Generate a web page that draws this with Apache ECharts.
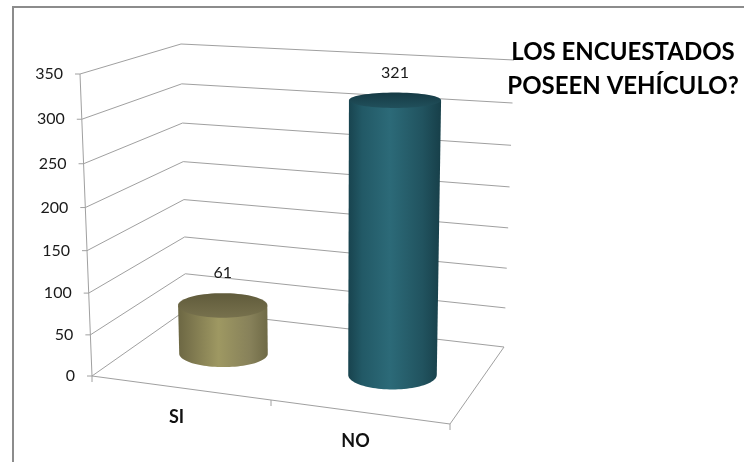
<!DOCTYPE html>
<html>
<head>
<meta charset="utf-8">
<script src="https://cdn.jsdelivr.net/npm/echarts@6/dist/echarts.min.js"></script>
<style>
  html, body { margin: 0; padding: 0; background: #ffffff; }
  #chart { width: 744px; height: 462px; }
</style>
</head>
<body>
<div id="chart"></div>
<script>
// Survey answers: do respondents own a vehicle?
const categories = ['SI', 'NO'];
const counts = [61, 321];
const valueTicks = [0, 50, 100, 150, 200, 250, 300, 350];
const titleLines = ['LOS ENCUESTADOS', 'POSEEN VEHÍCULO?'];

// Screen corners of the 3D plot box (front/back, bottom/top, left/right)
const box = {
  fbl: [92, 376], ftl: [80, 74],
  bbl: [186, 310], btl: [181, 44],
  fbr: [450, 424], ftr: [453, 98],
  bbr: [504, 347], btr: [514, 60]
};
const PERSP = 0.946;      // foreshortening of the height axis
const DEPTH = 0.5;        // depth at which the cylinders stand
const RAD_U = 0.131;      // cylinder radius along the category direction
const RAD_W = 0.196;      // cylinder radius along the depth direction
const GRID_COLOR = '#a0a0a0';
const FAMILY = 'Lato, "Open Sans", sans-serif';

function lerp(a, b, t) { return [a[0] + (b[0] - a[0]) * t, a[1] + (b[1] - a[1]) * t]; }
function proj(u, w, s) {
  const t = s * PERSP / (1 + (PERSP - 1) * s);
  const bot = lerp(lerp(box.fbl, box.fbr, u), lerp(box.bbl, box.bbr, u), w);
  const top = lerp(lerp(box.ftl, box.ftr, u), lerp(box.btl, box.btr, u), w);
  return lerp(bot, top, t);
}
// Normalised position (u along categories, s along values) from the cartesian scales
function norm(params, api, cat, value) {
  const p = api.coord([cat, value]);
  const cs = params.coordSys;
  return { u: (p[0] - cs.x) / cs.width, s: (cs.y + cs.height - p[1]) / cs.height };
}
function line(a, b, color) {
  return { type: 'line', shape: { x1: a[0], y1: a[1], x2: b[0], y2: b[1] },
           style: { stroke: color || GRID_COLOR, lineWidth: 1 } };
}
function label(text, x, y, align, font, fill) {
  return { type: 'text', style: {
    text: text, x: x, y: y, align: align, verticalAlign: 'middle',
    textAlign: align, textVerticalAlign: 'middle', font: font, fill: fill } };
}
function ellipsePts(cx, cy, rx, ry, from, to, n) {
  const pts = [];
  for (let i = 0; i <= n; i++) {
    const a = from + (to - from) * i / n;
    pts.push([cx + rx * Math.cos(a), cy + ry * Math.sin(a)]);
  }
  return pts;
}

const palette = [
  { body: ['#6c6743', '#7d774e', '#9e9862', '#87815a', '#6f6a46'], top: ['#605b3b', '#77714d'] },
  { body: ['#18434e', '#225966', '#2c6a78', '#21535f', '#173f49'], top: ['#153a44', '#21505c'] }
];

// Gridlines on the side and back walls, with value labels on the front edge
function renderTick(params, api) {
  const n = norm(params, api, 0, api.value(1));
  const front = proj(0, 0, n.s), back = proj(0, 1, n.s), right = proj(1, 1, n.s);
  return {
    type: 'group',
    children: [
      line(front, back),
      line(back, right),
      line([front[0] - 5, front[1]], front),
      label(String(api.value(1)), front[0] - 17, front[1], 'right', '16px ' + FAMILY, '#1a1a1a')
    ]
  };
}

// Floor outline, front vertical edge and category ticks
function renderFrame(params, api) {
  const top = norm(params, api, 0, valueTicks[valueTicks.length - 1]).s;
  const children = [
    line(proj(0, 0, 0), proj(0, 0, top)),
    line(proj(0, 0, 0), proj(1, 0, 0)),
    line(proj(1, 0, 0), proj(1, 1, 0))
  ];
  for (let k = 0; k <= categories.length; k++) {
    const p = proj(k / categories.length, 0, 0);
    children.push(line(p, [p[0], p[1] + 6]));
  }
  return { type: 'group', children };
}

// Cylinders, value labels and category labels
function renderCylinder(params, api) {
  const idx = api.value(0), val = api.value(1);
  const nTop = norm(params, api, idx, val);
  const nBot = norm(params, api, idx, 0);
  const u = nTop.u;
  const cb = proj(u, DEPTH, nBot.s), ct = proj(u, DEPTH, nTop.s);
  const rxB = (proj(u + RAD_U, DEPTH, nBot.s)[0] - proj(u - RAD_U, DEPTH, nBot.s)[0]) / 2;
  const ryB = (proj(u, DEPTH - RAD_W, nBot.s)[1] - proj(u, DEPTH + RAD_W, nBot.s)[1]) / 2;
  const rxT = (proj(u + RAD_U, DEPTH, nTop.s)[0] - proj(u - RAD_U, DEPTH, nTop.s)[0]) / 2;
  const ryT = (proj(u, DEPTH - RAD_W, nTop.s)[1] - proj(u, DEPTH + RAD_W, nTop.s)[1]) / 2;
  const col = palette[idx % palette.length];

  const bodyPts = [[ct[0] - rxT, ct[1]]]
    .concat(ellipsePts(cb[0], cb[1], rxB, ryB, Math.PI, 0, 48))
    .concat([[ct[0] + rxT, ct[1]]]);
  const topPts = ellipsePts(ct[0], ct[1], rxT, ryT, 0, Math.PI * 2, 72);
  const front = proj(u, 0, 0);

  return {
    type: 'group',
    children: [
      { type: 'polygon', shape: { points: bodyPts },
        style: { fill: new echarts.graphic.LinearGradient(0, 0, 1, 0, [
          { offset: 0, color: col.body[0] }, { offset: 0.15, color: col.body[1] },
          { offset: 0.45, color: col.body[2] }, { offset: 0.8, color: col.body[3] },
          { offset: 1, color: col.body[4] }]) } },
      { type: 'polygon', shape: { points: topPts },
        style: { fill: new echarts.graphic.LinearGradient(0, 0, 0, 1, [
          { offset: 0, color: col.top[0] }, { offset: 1, color: col.top[1] }]) } },
      label(String(val), ct[0], ct[1] - ryT - 20, 'center', '16px ' + FAMILY, '#1a1a1a'),
      label(categories[idx], front[0] - 5, front[1] + 29, 'center', 'bold 18px ' + FAMILY, '#111111')
    ]
  };
}

const chart = echarts.init(document.getElementById('chart'), null, { renderer: 'canvas' });
chart.setOption({
  animation: false,
  backgroundColor: '#ffffff',
  title: {
    text: titleLines.join('\n'),
    left: 618, top: 30, textAlign: 'center',
    textStyle: { fontFamily: FAMILY, fontWeight: 'bold', fontSize: 24, lineHeight: 34, color: '#000000' }
  },
  graphic: [{
    type: 'polyline', silent: true,
    shape: { points: [[13, 470], [13, 7], [760, 7]] },
    style: { fill: null, stroke: '#8c8c8c', lineWidth: 2 }
  }],
  grid: { left: 0, top: 0, width: 100, height: 100, show: false },
  xAxis: { type: 'category', data: categories, show: false },
  yAxis: { type: 'value', min: valueTicks[0], max: valueTicks[valueTicks.length - 1], interval: 50, show: false },
  series: [
    { type: 'custom', name: 'grid', clip: false, silent: true, z: 1,
      data: valueTicks.map(v => [0, v]), renderItem: renderTick },
    { type: 'custom', name: 'frame', clip: false, silent: true, z: 1,
      data: [[0, 0]], renderItem: renderFrame },
    { type: 'custom', name: 'Encuestados', clip: false, silent: true, z: 3,
      data: counts.map((v, i) => [i, v]), renderItem: renderCylinder }
  ]
});
</script>
</body>
</html>
